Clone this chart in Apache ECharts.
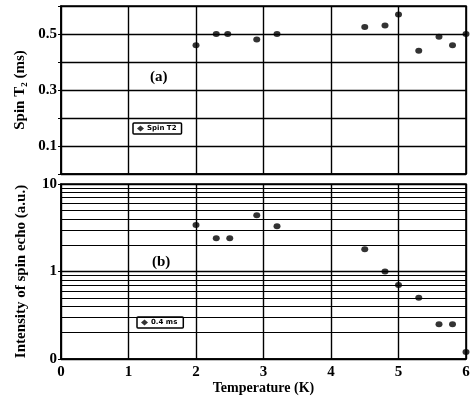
<!DOCTYPE html>
<html>
<head>
<meta charset="utf-8">
<script src="https://cdn.jsdelivr.net/npm/echarts@6/dist/echarts.min.js"></script>
<style>html,body{margin:0;padding:0;background:#fff;}#c{width:473px;height:406px;}</style>
</head>
<body>
<div id="c"></div>
<script>
// Panel (a): spin T2 vs temperature
var tempsA = [2.0, 2.3, 2.47, 2.9, 3.2, 4.5, 4.8, 5.0, 5.3, 5.6, 5.8, 6.0];
var spinT2 = [0.46, 0.50, 0.50, 0.48, 0.50, 0.525, 0.53, 0.57, 0.44, 0.49, 0.46, 0.50];
// Panel (b): spin echo intensity (log scale) vs temperature
var tempsB = [2.0, 2.3, 2.5, 2.9, 3.2, 4.5, 4.8, 5.0, 5.3, 5.6, 5.8, 6.0];
var echo = [3.4, 2.4, 2.4, 4.4, 3.3, 1.8, 1.0, 0.70, 0.50, 0.25, 0.25, 0.12];
// tick values
var xTicks = [0, 1, 2, 3, 4, 5, 6];
var t2Labels = [0.1, 0.3, 0.5];
var logMinor = [0.2, 0.3, 0.4, 0.5, 0.6, 0.7, 0.8, 0.9, 2, 3, 4, 5, 6, 7, 8, 9];
var seriesNames = ['Spin T2', '0.4 ms'];

var serif = '"Liberation Serif", "DejaVu Serif", serif';
var chart = echarts.init(document.getElementById('c'), null, {renderer: 'canvas'});

function pairs(xs, ys) { return xs.map(function (x, i) { return [x, ys[i]]; }); }

var gridLine = {show: true, lineStyle: {color: '#000', width: 1.4}};
var axisLine = {show: true, onZero: false, lineStyle: {color: '#000', width: 1.6}};

chart.setOption({
  animation: false,
  backgroundColor: '#fff',
  grid: [
    {left: 61, right: 7, top: 6, height: 168, show: true, borderColor: '#000', borderWidth: 1.6, backgroundColor: 'transparent'},
    {left: 61, right: 7, top: 184, height: 175, show: true, borderColor: '#000', borderWidth: 1.6, backgroundColor: 'transparent'}
  ],
  xAxis: [
    {gridIndex: 0, type: 'value', min: 0, max: 6, interval: 1,
     axisLine: axisLine, axisTick: {show: false}, axisLabel: {show: false}, splitLine: gridLine},
    {gridIndex: 1, type: 'value', min: 0, max: 6, interval: 1,
     axisLine: axisLine, axisTick: {show: true, inside: true, length: 3, lineStyle: {color: '#000'}},
     axisLabel: {show: true, margin: 6, color: '#000', fontFamily: serif, fontWeight: 'bold', fontSize: 15,
       formatter: function (v) { return xTicks.indexOf(v) >= 0 ? String(v) : ''; }},
     splitLine: gridLine,
     name: 'Temperature (K)', nameLocation: 'middle', nameGap: 22,
     nameTextStyle: {color: '#000', fontFamily: serif, fontWeight: 'bold', fontSize: 14}}
  ],
  yAxis: [
    {gridIndex: 0, type: 'value', min: 0, max: 0.6, interval: 0.1,
     axisLine: axisLine, axisTick: {show: true, length: 3, lineStyle: {color: '#000'}},
     axisLabel: {show: true, margin: 4, color: '#000', fontFamily: serif, fontWeight: 'bold', fontSize: 15,
       formatter: function (v) {
         for (var i = 0; i < t2Labels.length; i++) { if (Math.abs(v - t2Labels[i]) < 1e-6) return String(t2Labels[i]); }
         return '';
       }},
     splitLine: gridLine,
     name: 'Spin T\u2082 (ms)', nameLocation: 'middle', nameGap: 32,
     nameTextStyle: {color: '#000', fontFamily: serif, fontWeight: 'bold', fontSize: 15}},
    {gridIndex: 1, type: 'log', logBase: 10, min: 0.1, max: 10,
     axisLine: axisLine, axisTick: {show: true, length: 3, lineStyle: {color: '#000'}},
     axisLabel: {show: true, margin: 4, color: '#000', fontFamily: serif, fontWeight: 'bold', fontSize: 15,
       formatter: function (v) { return v < 0.5 ? '0' : String(Math.round(v)); }},
     splitLine: gridLine,
     name: 'Intensity of spin echo (a.u.)', nameLocation: 'middle', nameGap: 32,
     nameTextStyle: {color: '#000', fontFamily: serif, fontWeight: 'bold', fontSize: 15}}
  ],
  legend: [
    {data: [seriesNames[0]], left: 133, top: 123, orient: 'horizontal',
     backgroundColor: '#fff', borderColor: '#000', borderWidth: 1.5, borderRadius: 1, padding: [2, 5, 2, 4],
     itemWidth: 7, itemHeight: 6, itemGap: 2, icon: 'diamond',
     textStyle: {color: '#000', fontSize: 7, fontWeight: 'bold', fontFamily: 'DejaVu Sans', padding: [0, 0, 0, -2]}},
    {data: [seriesNames[1]], left: 137, top: 317, orient: 'horizontal',
     backgroundColor: '#fff', borderColor: '#000', borderWidth: 1.5, borderRadius: 1, padding: [2, 6, 2, 4],
     itemWidth: 7, itemHeight: 6, itemGap: 2, icon: 'diamond',
     textStyle: {color: '#000', fontSize: 7, fontWeight: 'bold', fontFamily: 'DejaVu Sans', padding: [0, 0, 0, -2]}}
  ],
  graphic: [
    {type: 'text', left: 150, top: 70, style: {text: '(a)', fill: '#000', font: 'bold 15px ' + serif}},
    {type: 'text', left: 152, top: 255, style: {text: '(b)', fill: '#000', font: 'bold 15px ' + serif}}
  ],
  series: [
    {name: seriesNames[0], type: 'scatter', xAxisIndex: 0, yAxisIndex: 0, data: pairs(tempsA, spinT2),
     symbol: 'circle', symbolSize: [7, 6], clip: false, itemStyle: {color: '#000'}},
    {name: seriesNames[1], type: 'scatter', xAxisIndex: 1, yAxisIndex: 1, data: pairs(tempsB, echo),
     symbol: 'circle', symbolSize: [7, 6], clip: false, itemStyle: {color: '#000'},
     markLine: {silent: true, symbol: 'none', label: {show: false},
       lineStyle: {color: '#000', width: 1.2, type: 'solid'},
       data: logMinor.map(function (v) { return {yAxis: v}; })}}
  ]
});
</script>
</body>
</html>
